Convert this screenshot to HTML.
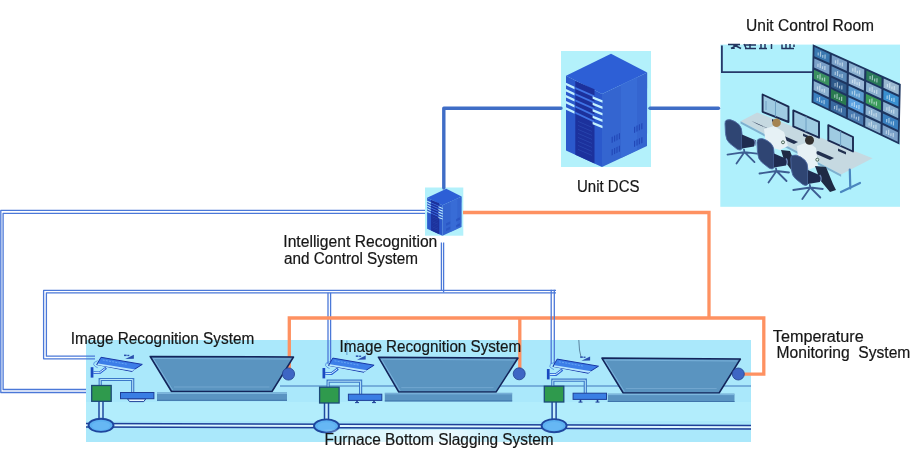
<!DOCTYPE html>
<html><head><meta charset="utf-8">
<style>
html,body{margin:0;padding:0;background:#fff;width:917px;height:469px;overflow:hidden}
svg{display:block;will-change:transform}
text{font-family:"Liberation Sans",sans-serif;font-size:16px;fill:#161616;stroke:#161616;stroke-width:0.2px}
</style></head><body>
<svg width="917" height="469" viewBox="0 0 917 469">
<defs>
  <g id="server">
    <polygon points="50,2.8 86.2,21.4 41,43 5,24.7" fill="#2d5fd6"/>
    <polygon points="5,24.7 41,43 41,116 5,99.4" fill="#2b59cc"/>
    <polygon points="41,43 86.2,21.4 86,95 41,116" fill="#3465d0"/>
    <polygon points="60,33.5 76,26 76,99.2 60,106.9" fill="#3b6fd8" opacity="0.7"/>
    <polygon points="14.3,29.9 33.5,38.2 33.5,112.5 14.3,103.7" fill="#1c319c"/>
    <g fill="#3f74e6"><polygon points="14.3,36.0 33.5,44.5 33.5,46.5 14.3,38.0"/><polygon points="14.3,42.2 33.5,50.8 33.5,52.8 14.3,44.2"/><polygon points="14.3,48.4 33.5,57.1 33.5,59.1 14.3,50.4"/><polygon points="14.3,54.6 33.5,63.4 33.5,65.4 14.3,56.6"/><polygon points="14.3,60.8 33.5,69.7 33.5,71.7 14.3,62.8"/></g>
    <g fill="#2a48b0"><polygon points="17,70.0 31,76.0 31,76.8 17,70.8"/><polygon points="17,74.0 31,80.0 31,80.8 17,74.8"/><polygon points="17,78.0 31,84.0 31,84.8 17,78.8"/><polygon points="17,82.0 31,88.0 31,88.8 17,82.8"/><polygon points="17,86.0 31,92.0 31,92.8 17,86.8"/><polygon points="17,90.0 31,96.0 31,96.8 17,90.8"/><polygon points="17,94.0 31,100.0 31,100.8 17,94.8"/><polygon points="17,98.0 31,104.0 31,104.8 17,98.8"/></g>
    <g fill="#c4f2ff"><polygon points="5,31.8 13.5,35.8 13.5,38.3 5,34.3"/><polygon points="5,37.9 13.5,41.9 13.5,44.4 5,40.4"/><polygon points="5,44.0 13.5,48.0 13.5,50.5 5,46.5"/><polygon points="5,50.1 13.5,54.1 13.5,56.6 5,52.6"/><polygon points="5,56.2 13.5,60.2 13.5,62.7 5,58.7"/><polygon points="31.6,45.2 41.5,49.2 41.5,51.7 31.6,47.7"/><polygon points="31.6,51.6 41.5,55.6 41.5,58.1 31.6,54.1"/><polygon points="31.6,58.0 41.5,62.0 41.5,64.5 31.6,60.5"/><polygon points="31.6,64.4 41.5,68.4 41.5,70.9 31.6,66.9"/><polygon points="31.6,70.8 41.5,74.8 41.5,77.3 31.6,73.3"/></g>
    <g fill="#2248b8"><polygon points="50.6,86.0 51.8,85.4 51.8,91.4 50.6,92.0"/><polygon points="53.0,84.8 54.2,84.2 54.2,90.2 53.0,90.8"/><polygon points="55.4,83.7 56.6,83.1 56.6,89.1 55.4,89.7"/><polygon points="57.8,82.5 59.0,82.0 59.0,88.0 57.8,88.5"/><polygon points="50.6,98.5 51.8,97.9 51.8,103.9 50.6,104.5"/><polygon points="53.0,97.3 54.2,96.8 54.2,102.8 53.0,103.3"/><polygon points="55.4,96.2 56.6,95.6 56.6,101.6 55.4,102.2"/><polygon points="57.8,95.0 59.0,94.5 59.0,100.5 57.8,101.0"/><polygon points="73.0,76.0 74.2,75.4 74.2,81.4 73.0,82.0"/><polygon points="75.4,74.8 76.6,74.2 76.6,80.2 75.4,80.8"/><polygon points="77.8,73.7 79.0,73.1 79.0,79.1 77.8,79.7"/><polygon points="80.2,72.5 81.4,72.0 81.4,78.0 80.2,78.5"/><polygon points="73.0,90.0 74.2,89.4 74.2,95.4 73.0,96.0"/><polygon points="75.4,88.8 76.6,88.2 76.6,94.2 75.4,94.8"/><polygon points="77.8,87.7 79.0,87.1 79.0,93.1 77.8,93.7"/><polygon points="80.2,86.5 81.4,86.0 81.4,92.0 80.2,92.5"/></g>
  </g>
</defs>

<!-- DCS box -->
<rect x="561" y="51" width="90" height="116" fill="#b3f1fb"/>
<use href="#server" x="561" y="51"/>
<!-- small server box -->
<rect x="425" y="187.5" width="38.3" height="48.2" fill="#b3f1fb"/>
<use href="#server" transform="translate(425,187.5) scale(0.4255,0.4155)"/>

<!-- control room box -->
<rect x="720.3" y="44.6" width="179.7" height="162.2" fill="#aff0fc"/>
<g id="room">
  <!-- label frame -->
  <polyline points="721.9,45.5 721.9,72.2 813,72.2" fill="none" stroke="#26396a" stroke-width="1.8"/>
  <g stroke="#23355f" stroke-width="1.5" fill="none">
    <path d="M728,44.5 L740,44.5 M731,48.5 L738,44.5 M734,44 L734,49 M736,46 L741,48.5"/>
    <path d="M744,45 L756,45 M745,48.6 L756,48.6 M750,44 L750,48.6 M744,44 L746,48"/>
    <path d="M761,44 L761,48.5 M765,44 L765,48.5 M759,48.6 L767,48.6"/>
    <path d="M771.5,44 L771.5,49"/>
    <path d="M782,44.5 L782,48.5 L794,48.5 M786,44 L786,48 M790,44 L790,48 M794,44.5 L794,47"/>
  </g>
  <!-- video wall -->
    <polygon points="813.5,45.5 900,84.6 898.7,143.4 812.3,102" fill="#1d3560" stroke="#1d3560" stroke-width="1.5"/>
  <g id="tiles">
    <polygon points="814.5,47.1 829.7,53.9 829.5,63.1 814.3,56.2" fill="#3a78b0"/>
    <line x1="818.2" y1="55.6" x2="818.2" y2="52.4" stroke="#e6f4fb" stroke-width="1.2" opacity="0.6"/>
    <line x1="820.5" y1="56.7" x2="820.6" y2="51.6" stroke="#e6f4fb" stroke-width="1.2" opacity="0.6"/>
    <line x1="822.7" y1="57.7" x2="822.8" y2="55.0" stroke="#e6f4fb" stroke-width="1.2" opacity="0.6"/>
    <line x1="825.0" y1="58.8" x2="825.1" y2="54.6" stroke="#e6f4fb" stroke-width="1.2" opacity="0.6"/>
    <polygon points="814.3,58.4 829.5,65.3 829.3,74.5 814.1,67.5" fill="#7aa0c8"/>
    <line x1="817.9" y1="67.0" x2="818.0" y2="63.8" stroke="#e6f4fb" stroke-width="1.2" opacity="0.6"/>
    <line x1="820.2" y1="68.0" x2="820.3" y2="63.0" stroke="#e6f4fb" stroke-width="1.2" opacity="0.6"/>
    <line x1="822.5" y1="69.1" x2="822.6" y2="66.3" stroke="#e6f4fb" stroke-width="1.2" opacity="0.6"/>
    <line x1="824.8" y1="70.1" x2="824.9" y2="66.0" stroke="#e6f4fb" stroke-width="1.2" opacity="0.6"/>
    <polygon points="814.0,69.7 829.3,76.7 829.1,85.9 813.8,78.8" fill="#3a9060"/>
    <line x1="817.7" y1="78.3" x2="817.8" y2="75.1" stroke="#e6f4fb" stroke-width="1.2" opacity="0.6"/>
    <line x1="820.0" y1="79.4" x2="820.1" y2="74.3" stroke="#e6f4fb" stroke-width="1.2" opacity="0.6"/>
    <line x1="822.3" y1="80.4" x2="822.3" y2="77.7" stroke="#e6f4fb" stroke-width="1.2" opacity="0.6"/>
    <line x1="824.5" y1="81.5" x2="824.6" y2="77.4" stroke="#e6f4fb" stroke-width="1.2" opacity="0.6"/>
    <polygon points="813.8,81.0 829.0,88.1 828.8,97.3 813.6,90.1" fill="#8ab0d0"/>
    <line x1="817.5" y1="89.6" x2="817.5" y2="86.4" stroke="#e6f4fb" stroke-width="1.2" opacity="0.6"/>
    <line x1="819.7" y1="90.7" x2="819.8" y2="85.7" stroke="#e6f4fb" stroke-width="1.2" opacity="0.6"/>
    <line x1="822.0" y1="91.8" x2="822.1" y2="89.0" stroke="#e6f4fb" stroke-width="1.2" opacity="0.6"/>
    <line x1="824.3" y1="92.8" x2="824.4" y2="88.7" stroke="#e6f4fb" stroke-width="1.2" opacity="0.6"/>
    <polygon points="813.6,92.3 828.8,99.5 828.6,108.7 813.4,101.4" fill="#3a80c0"/>
    <line x1="817.2" y1="100.9" x2="817.3" y2="97.7" stroke="#e6f4fb" stroke-width="1.2" opacity="0.6"/>
    <line x1="819.5" y1="102.0" x2="819.6" y2="97.0" stroke="#e6f4fb" stroke-width="1.2" opacity="0.6"/>
    <line x1="821.8" y1="103.1" x2="821.8" y2="100.4" stroke="#e6f4fb" stroke-width="1.2" opacity="0.6"/>
    <line x1="824.1" y1="104.2" x2="824.1" y2="100.1" stroke="#e6f4fb" stroke-width="1.2" opacity="0.6"/>
    <polygon points="831.8,54.9 847.0,61.8 846.8,71.0 831.6,64.1" fill="#7aa0c8"/>
    <line x1="835.5" y1="63.5" x2="835.5" y2="60.3" stroke="#e6f4fb" stroke-width="1.2" opacity="0.6"/>
    <line x1="837.8" y1="64.6" x2="837.9" y2="59.5" stroke="#e6f4fb" stroke-width="1.2" opacity="0.6"/>
    <line x1="840.0" y1="65.6" x2="840.1" y2="62.8" stroke="#e6f4fb" stroke-width="1.2" opacity="0.6"/>
    <line x1="842.3" y1="66.6" x2="842.4" y2="62.5" stroke="#e6f4fb" stroke-width="1.2" opacity="0.6"/>
    <polygon points="831.6,66.3 846.8,73.3 846.6,82.5 831.4,75.5" fill="#5a8ab8"/>
    <line x1="835.2" y1="74.9" x2="835.3" y2="71.7" stroke="#e6f4fb" stroke-width="1.2" opacity="0.6"/>
    <line x1="837.5" y1="76.0" x2="837.6" y2="70.9" stroke="#e6f4fb" stroke-width="1.2" opacity="0.6"/>
    <line x1="839.8" y1="77.0" x2="839.9" y2="74.3" stroke="#e6f4fb" stroke-width="1.2" opacity="0.6"/>
    <line x1="842.1" y1="78.1" x2="842.2" y2="73.9" stroke="#e6f4fb" stroke-width="1.2" opacity="0.6"/>
    <polygon points="831.3,77.7 846.5,84.7 846.3,94.0 831.1,86.9" fill="#2f5a8a"/>
    <line x1="835.0" y1="86.4" x2="835.1" y2="83.1" stroke="#e6f4fb" stroke-width="1.2" opacity="0.6"/>
    <line x1="837.3" y1="87.4" x2="837.4" y2="82.3" stroke="#e6f4fb" stroke-width="1.2" opacity="0.6"/>
    <line x1="839.5" y1="88.5" x2="839.6" y2="85.7" stroke="#e6f4fb" stroke-width="1.2" opacity="0.6"/>
    <line x1="841.8" y1="89.6" x2="841.9" y2="85.4" stroke="#e6f4fb" stroke-width="1.2" opacity="0.6"/>
    <polygon points="831.1,89.1 846.3,96.2 846.1,105.5 830.9,98.3" fill="#2a7a50"/>
    <line x1="834.7" y1="97.8" x2="834.8" y2="94.5" stroke="#e6f4fb" stroke-width="1.2" opacity="0.6"/>
    <line x1="837.0" y1="98.9" x2="837.1" y2="93.8" stroke="#e6f4fb" stroke-width="1.2" opacity="0.6"/>
    <line x1="839.3" y1="99.9" x2="839.4" y2="97.2" stroke="#e6f4fb" stroke-width="1.2" opacity="0.6"/>
    <line x1="841.6" y1="101.0" x2="841.7" y2="96.8" stroke="#e6f4fb" stroke-width="1.2" opacity="0.6"/>
    <polygon points="830.8,100.5 846.0,107.7 845.8,117.0 830.6,109.7" fill="#3a6aa0"/>
    <line x1="834.5" y1="109.2" x2="834.6" y2="106.0" stroke="#e6f4fb" stroke-width="1.2" opacity="0.6"/>
    <line x1="836.8" y1="110.3" x2="836.9" y2="105.2" stroke="#e6f4fb" stroke-width="1.2" opacity="0.6"/>
    <line x1="839.1" y1="111.4" x2="839.1" y2="108.6" stroke="#e6f4fb" stroke-width="1.2" opacity="0.6"/>
    <line x1="841.3" y1="112.5" x2="841.4" y2="108.3" stroke="#e6f4fb" stroke-width="1.2" opacity="0.6"/>
    <polygon points="849.1,62.7 864.3,69.6 864.1,79.0 848.9,72.0" fill="#8ab0d0"/>
    <line x1="852.8" y1="71.4" x2="852.8" y2="68.2" stroke="#e6f4fb" stroke-width="1.2" opacity="0.6"/>
    <line x1="855.1" y1="72.5" x2="855.2" y2="67.3" stroke="#e6f4fb" stroke-width="1.2" opacity="0.6"/>
    <line x1="857.3" y1="73.5" x2="857.4" y2="70.7" stroke="#e6f4fb" stroke-width="1.2" opacity="0.6"/>
    <line x1="859.6" y1="74.5" x2="859.7" y2="70.3" stroke="#e6f4fb" stroke-width="1.2" opacity="0.6"/>
    <polygon points="848.9,74.2 864.1,81.2 863.9,90.5 848.7,83.5" fill="#9ab8d8"/>
    <line x1="852.5" y1="82.9" x2="852.6" y2="79.7" stroke="#e6f4fb" stroke-width="1.2" opacity="0.6"/>
    <line x1="854.8" y1="84.0" x2="854.9" y2="78.9" stroke="#e6f4fb" stroke-width="1.2" opacity="0.6"/>
    <line x1="857.1" y1="85.0" x2="857.1" y2="82.2" stroke="#e6f4fb" stroke-width="1.2" opacity="0.6"/>
    <line x1="859.4" y1="86.1" x2="859.5" y2="81.9" stroke="#e6f4fb" stroke-width="1.2" opacity="0.6"/>
    <polygon points="848.6,85.7 863.8,92.7 863.6,102.1 848.4,95.0" fill="#5a9ad0"/>
    <line x1="852.3" y1="94.4" x2="852.3" y2="91.2" stroke="#e6f4fb" stroke-width="1.2" opacity="0.6"/>
    <line x1="854.6" y1="95.5" x2="854.7" y2="90.4" stroke="#e6f4fb" stroke-width="1.2" opacity="0.6"/>
    <line x1="856.8" y1="96.6" x2="856.9" y2="93.8" stroke="#e6f4fb" stroke-width="1.2" opacity="0.6"/>
    <line x1="859.1" y1="97.6" x2="859.2" y2="93.4" stroke="#e6f4fb" stroke-width="1.2" opacity="0.6"/>
    <polygon points="848.4,97.2 863.6,104.3 863.4,113.7 848.2,106.5" fill="#5aa0e0"/>
    <line x1="852.0" y1="105.9" x2="852.1" y2="102.7" stroke="#e6f4fb" stroke-width="1.2" opacity="0.6"/>
    <line x1="854.3" y1="107.0" x2="854.4" y2="101.9" stroke="#e6f4fb" stroke-width="1.2" opacity="0.6"/>
    <line x1="856.6" y1="108.1" x2="856.6" y2="105.3" stroke="#e6f4fb" stroke-width="1.2" opacity="0.6"/>
    <line x1="858.9" y1="109.2" x2="859.0" y2="105.0" stroke="#e6f4fb" stroke-width="1.2" opacity="0.6"/>
    <polygon points="848.1,108.7 863.3,115.9 863.1,125.2 847.9,118.0" fill="#4a7ab0"/>
    <line x1="851.8" y1="117.4" x2="851.8" y2="114.2" stroke="#e6f4fb" stroke-width="1.2" opacity="0.6"/>
    <line x1="854.1" y1="118.5" x2="854.2" y2="113.4" stroke="#e6f4fb" stroke-width="1.2" opacity="0.6"/>
    <line x1="856.3" y1="119.6" x2="856.4" y2="116.8" stroke="#e6f4fb" stroke-width="1.2" opacity="0.6"/>
    <line x1="858.6" y1="120.7" x2="858.7" y2="116.5" stroke="#e6f4fb" stroke-width="1.2" opacity="0.6"/>
    <polygon points="866.4,70.5 881.6,77.4 881.4,86.9 866.2,79.9" fill="#2a7a5a"/>
    <line x1="870.1" y1="79.3" x2="870.1" y2="76.0" stroke="#e6f4fb" stroke-width="1.2" opacity="0.6"/>
    <line x1="872.3" y1="80.3" x2="872.5" y2="75.2" stroke="#e6f4fb" stroke-width="1.2" opacity="0.6"/>
    <line x1="874.6" y1="81.4" x2="874.7" y2="78.6" stroke="#e6f4fb" stroke-width="1.2" opacity="0.6"/>
    <line x1="876.9" y1="82.4" x2="877.0" y2="78.2" stroke="#e6f4fb" stroke-width="1.2" opacity="0.6"/>
    <polygon points="866.2,82.1 881.4,89.1 881.2,98.5 866.0,91.5" fill="#8ab0d0"/>
    <line x1="869.8" y1="90.9" x2="869.9" y2="87.6" stroke="#e6f4fb" stroke-width="1.2" opacity="0.6"/>
    <line x1="872.1" y1="91.9" x2="872.2" y2="86.8" stroke="#e6f4fb" stroke-width="1.2" opacity="0.6"/>
    <line x1="874.4" y1="93.0" x2="874.4" y2="90.2" stroke="#e6f4fb" stroke-width="1.2" opacity="0.6"/>
    <line x1="876.7" y1="94.1" x2="876.8" y2="89.8" stroke="#e6f4fb" stroke-width="1.2" opacity="0.6"/>
    <polygon points="865.9,93.7 881.1,100.8 880.9,110.2 865.7,103.1" fill="#3a9a5a"/>
    <line x1="869.6" y1="102.5" x2="869.6" y2="99.2" stroke="#e6f4fb" stroke-width="1.2" opacity="0.6"/>
    <line x1="871.8" y1="103.6" x2="872.0" y2="98.4" stroke="#e6f4fb" stroke-width="1.2" opacity="0.6"/>
    <line x1="874.1" y1="104.6" x2="874.2" y2="101.8" stroke="#e6f4fb" stroke-width="1.2" opacity="0.6"/>
    <line x1="876.4" y1="105.7" x2="876.5" y2="101.5" stroke="#e6f4fb" stroke-width="1.2" opacity="0.6"/>
    <polygon points="865.7,105.3 880.9,112.4 880.7,121.8 865.5,114.6" fill="#8ab0d0"/>
    <line x1="869.3" y1="114.1" x2="869.4" y2="110.8" stroke="#e6f4fb" stroke-width="1.2" opacity="0.6"/>
    <line x1="871.6" y1="115.2" x2="871.7" y2="110.0" stroke="#e6f4fb" stroke-width="1.2" opacity="0.6"/>
    <line x1="873.9" y1="116.3" x2="873.9" y2="113.4" stroke="#e6f4fb" stroke-width="1.2" opacity="0.6"/>
    <line x1="876.2" y1="117.3" x2="876.2" y2="113.1" stroke="#e6f4fb" stroke-width="1.2" opacity="0.6"/>
    <polygon points="865.4,116.9 880.6,124.1 880.4,133.5 865.2,126.2" fill="#8ab0d0"/>
    <line x1="869.1" y1="125.7" x2="869.1" y2="122.4" stroke="#e6f4fb" stroke-width="1.2" opacity="0.6"/>
    <line x1="871.3" y1="126.8" x2="871.4" y2="121.6" stroke="#e6f4fb" stroke-width="1.2" opacity="0.6"/>
    <line x1="873.6" y1="127.9" x2="873.7" y2="125.1" stroke="#e6f4fb" stroke-width="1.2" opacity="0.6"/>
    <line x1="875.9" y1="129.0" x2="876.0" y2="124.7" stroke="#e6f4fb" stroke-width="1.2" opacity="0.6"/>
    <polygon points="883.7,78.4 898.9,85.3 898.7,94.8 883.5,87.8" fill="#9ab8d0"/>
    <line x1="887.4" y1="87.2" x2="887.4" y2="83.9" stroke="#e6f4fb" stroke-width="1.2" opacity="0.6"/>
    <line x1="889.6" y1="88.2" x2="889.8" y2="83.0" stroke="#e6f4fb" stroke-width="1.2" opacity="0.6"/>
    <line x1="891.9" y1="89.3" x2="892.0" y2="86.4" stroke="#e6f4fb" stroke-width="1.2" opacity="0.6"/>
    <line x1="894.2" y1="90.3" x2="894.3" y2="86.0" stroke="#e6f4fb" stroke-width="1.2" opacity="0.6"/>
    <polygon points="883.5,90.0 898.7,97.0 898.5,106.5 883.3,99.5" fill="#3a90d0"/>
    <line x1="887.1" y1="98.9" x2="887.2" y2="95.6" stroke="#e6f4fb" stroke-width="1.2" opacity="0.6"/>
    <line x1="889.4" y1="99.9" x2="889.5" y2="94.7" stroke="#e6f4fb" stroke-width="1.2" opacity="0.6"/>
    <line x1="891.7" y1="101.0" x2="891.7" y2="98.1" stroke="#e6f4fb" stroke-width="1.2" opacity="0.6"/>
    <line x1="894.0" y1="102.0" x2="894.0" y2="97.8" stroke="#e6f4fb" stroke-width="1.2" opacity="0.6"/>
    <polygon points="883.2,101.7 898.4,108.8 898.2,118.3 883.0,111.1" fill="#8ab0d0"/>
    <line x1="886.8" y1="110.6" x2="886.9" y2="107.3" stroke="#e6f4fb" stroke-width="1.2" opacity="0.6"/>
    <line x1="889.1" y1="111.6" x2="889.2" y2="106.4" stroke="#e6f4fb" stroke-width="1.2" opacity="0.6"/>
    <line x1="891.4" y1="112.7" x2="891.5" y2="109.9" stroke="#e6f4fb" stroke-width="1.2" opacity="0.6"/>
    <line x1="893.7" y1="113.8" x2="893.8" y2="109.5" stroke="#e6f4fb" stroke-width="1.2" opacity="0.6"/>
    <polygon points="882.9,113.4 898.2,120.5 897.9,130.0 882.7,122.8" fill="#3a80c0"/>
    <line x1="886.6" y1="122.3" x2="886.7" y2="119.0" stroke="#e6f4fb" stroke-width="1.2" opacity="0.6"/>
    <line x1="888.9" y1="123.3" x2="889.0" y2="118.1" stroke="#e6f4fb" stroke-width="1.2" opacity="0.6"/>
    <line x1="891.2" y1="124.4" x2="891.2" y2="121.6" stroke="#e6f4fb" stroke-width="1.2" opacity="0.6"/>
    <line x1="893.4" y1="125.5" x2="893.5" y2="121.2" stroke="#e6f4fb" stroke-width="1.2" opacity="0.6"/>
    <polygon points="882.7,125.1 897.9,132.3 897.7,141.8 882.5,134.5" fill="#7aa0c8"/>
    <line x1="886.3" y1="134.0" x2="886.4" y2="130.6" stroke="#e6f4fb" stroke-width="1.2" opacity="0.6"/>
    <line x1="888.6" y1="135.0" x2="888.7" y2="129.8" stroke="#e6f4fb" stroke-width="1.2" opacity="0.6"/>
    <line x1="890.9" y1="136.1" x2="891.0" y2="133.3" stroke="#e6f4fb" stroke-width="1.2" opacity="0.6"/>
    <line x1="893.2" y1="137.2" x2="893.3" y2="133.0" stroke="#e6f4fb" stroke-width="1.2" opacity="0.6"/>
  </g>
  <!-- desk -->
  <polygon points="740.5,121.3 757.2,112.4 872.6,158.3 841.1,174.5" fill="#c6d9e1"/>
  <polygon points="740.5,121.3 841.1,174.5 841.1,176.8 740.5,123.6" fill="#7fb0cf"/>
  <path d="M849.8,169.5 L850.3,188.5 M841,192 L860,183" stroke="#4a86bf" stroke-width="2.2" fill="none" stroke-linecap="round"/>
  <!-- monitors -->
  <g fill="#9fcbe2" stroke="#1b2a52" stroke-width="1.9" stroke-linejoin="round">
    <polygon points="762.6,94.5 788.5,106.6 788.5,122 762.6,111.8"/>
    <polygon points="793.3,110.4 819,121.9 819,137.7 793.3,126.4"/>
    <polygon points="828.3,125.1 853,137 853,151.5 828.3,140.4"/>
  </g>
  <g stroke="#6a9cc0" stroke-width="0.9" fill="none">
    <path d="M775.5,100.6 L775.5,116.8 M766,101 L766,110"/>
    <path d="M806,116.2 L806,132"/>
    <path d="M840.6,131 L840.6,146"/>
  </g>
  <g fill="#22304f">
    <polygon points="772,119 780,122.5 780,125 772,121.5"/>
    <polygon points="803,133.5 811,137 811,139.5 803,136"/>
    <polygon points="838,148.5 846,152 846,154.5 838,151"/>
    <polygon points="751.6,121 766,127.5 771.6,130.2 757,124"/>
    <polygon points="782,135 798,142 794,144 778,137"/>
    <polygon points="818,151 834,158 830,160 814,153"/>
  </g>
  <!-- people -->
  <g fill="#e6f1f5">
    <polygon points="764,129 774,126 784,132 788,146 780,150 766,146"/>
    <polygon points="797,146 808,142 816,148 818,166 808,170 798,160"/>
  </g>
  <g fill="#a48452"><circle cx="776.5" cy="122.8" r="4.3"/></g>
  <g fill="#33302f"><circle cx="809.5" cy="140.2" r="4.5"/></g>
  <g fill="#1f2a44">
    <polygon points="781,150 790,151 796,166 792,171 784,160"/>
    <polygon points="815,166 826,167 833,184 836,190 830,192 820,180"/>
  </g>
  <g fill="#e8f4f0" stroke="#2a4a3a" stroke-width="0.8">
    <circle cx="783" cy="142.3" r="1.5"/>
    <circle cx="817.3" cy="159.7" r="1.5"/>
  </g>
  <!-- chairs -->
  <defs>
    <g id="chair">
      <path d="M1.5,0.5 Q5,-1 10,2 L14,5 Q17,8 17,14 L17,29 Q16,31.5 12,29.5 L5,24 Q1,21 0.5,14 L0,4 Q0,1 1.5,0.5Z" fill="#2f4573" stroke="#4d6aa3" stroke-width="0.9"/>
      <polygon points="17,15 31,21 29,27 17,29" fill="#1e2b50"/>
      <path d="M29,20 Q31,22 30,26" stroke="#6c88b8" stroke-width="1.2" fill="none"/>
      <g stroke="#3d5d92" stroke-width="1.8" fill="none" stroke-linecap="round">
        <path d="M19,30 L19.5,32.5 M19.5,32.5 L2.5,35 M19.5,32.5 L11.5,44 M19.5,32.5 L29.5,42.5 M19.5,32.5 L32,34"/>
      </g>
    </g>
  </defs>
  <use href="#chair" x="725" y="119.6"/>
  <use href="#chair" x="757" y="138.5"/>
  <use href="#chair" x="790.8" y="155"/>
</g>

<!-- panel -->
<rect x="86" y="340" width="665" height="102" fill="#aae8fb"/>
<rect x="86" y="402" width="665" height="19" fill="#b4eefc" opacity="0.8"/>
<!-- single blue lines -->
<g stroke="#3f6dc6" stroke-width="3.4" fill="none" stroke-linecap="round" stroke-linejoin="round">
  <polyline points="561,108.3 443.8,108.3 443.8,188"/>
  <line x1="650" y1="108.2" x2="718.5" y2="108.2"/>
</g>

<g stroke="#4b78d8" stroke-width="1.3" fill="none">
  <polyline points="328,292.8 328,364"/>
  <polyline points="330.6,292.8 330.6,364"/>
</g>
<!-- orange lines -->
<g stroke="#fe9161" stroke-width="3.3" fill="none">
  <polyline points="463,212.5 709,212.5 709,318"/>
  <polyline points="289.3,374 289.3,318 763.8,318 763.8,374.2 738,374.2"/>
  <line x1="519.8" y1="318" x2="519.8" y2="374"/>
</g>
<g stroke="#4b78d8" stroke-width="1.3" fill="none">
  <polyline points="551.2,289.8 551.2,364"/>
  <polyline points="554.3,289.8 554.3,364"/>
</g>


<!-- double lines -->
<g stroke="#4b78d8" stroke-width="1.3" fill="none" stroke-linejoin="round">
  <polyline points="425,210.3 0.8,210.3 0.8,392.5 86,392.5"/>
  <polyline points="425,213.3 3.1,213.3 3.1,389.5 86,389.5"/>
  <polyline points="441.4,242.5 441.4,290.4"/>
  <polyline points="443.6,242.5 443.6,292.4"/>
  <polyline points="556,290.4 43.6,290.4 43.6,358.8 95,358.8"/>
  <polyline points="556,292.8 46.4,292.8 46.4,356.2 95,356.2"/>
  <!-- bottom -->

</g>
<line x1="280" y1="386" x2="751" y2="386" stroke="#2f64b0" stroke-width="1" opacity="0.85"/>
<line x1="86" y1="425.3" x2="751" y2="427.2" stroke="#dcf6ff" stroke-width="2.4"/>
<line x1="86" y1="423.6" x2="751" y2="425.4" stroke="#1f3f98" stroke-width="1.5"/>
<line x1="86" y1="427" x2="751" y2="428.9" stroke="#1f3f98" stroke-width="1.5"/>

<!-- hoppers -->
<polygon points="150.2,356.5 293.5,357 272,391.5 171.5,391.5" fill="#5a94c0" stroke="#13245a" stroke-width="1.5" stroke-linejoin="round"/>
<polyline points="172.7,390.0 153.2,358.5 290.5,359" fill="none" stroke="#86bde4" stroke-width="0.9" opacity="0.8"/>
<line x1="174.0" y1="387.0" x2="269.5" y2="387.0" stroke="#7aaed6" stroke-width="0.9" opacity="0.8"/>
<polygon points="378.4,357.2 518,358 496,392.1 398.8,392.1" fill="#5a94c0" stroke="#13245a" stroke-width="1.5" stroke-linejoin="round"/>
<polyline points="400.0,390.6 381.4,359.2 515,360" fill="none" stroke="#86bde4" stroke-width="0.9" opacity="0.8"/>
<line x1="401.3" y1="387.6" x2="493.5" y2="387.6" stroke="#7aaed6" stroke-width="0.9" opacity="0.8"/>
<polygon points="601.9,358.1 740.4,359 719.1,393 623.2,393" fill="#5a94c0" stroke="#13245a" stroke-width="1.5" stroke-linejoin="round"/>
<polyline points="624.4000000000001,391.5 604.9,360.1 737.4,361" fill="none" stroke="#86bde4" stroke-width="0.9" opacity="0.8"/>
<line x1="625.7" y1="388.5" x2="716.6" y2="388.5" stroke="#7aaed6" stroke-width="0.9" opacity="0.8"/>
<rect x="157" y="392.4" width="130" height="8.4" fill="#5a94c2"/>
<line x1="157" y1="393.4" x2="287" y2="393.4" stroke="#8cc4e8" stroke-width="0.8"/>
<line x1="157" y1="400.29999999999995" x2="287" y2="400.29999999999995" stroke="#3f74aa" stroke-width="1"/>
<rect x="384.8" y="392.8" width="127.4" height="8.6" fill="#5a94c2"/>
<line x1="384.8" y1="393.8" x2="512.2" y2="393.8" stroke="#8cc4e8" stroke-width="0.8"/>
<line x1="384.8" y1="400.90000000000003" x2="512.2" y2="400.90000000000003" stroke="#3f74aa" stroke-width="1"/>
<rect x="607.8" y="393.6" width="126.7" height="8.4" fill="#5a94c2"/>
<line x1="607.8" y1="394.6" x2="734.5" y2="394.6" stroke="#8cc4e8" stroke-width="0.8"/>
<line x1="607.8" y1="401.5" x2="734.5" y2="401.5" stroke="#3f74aa" stroke-width="1"/>
<g fill="#3e66c4" stroke="#22408e" stroke-width="0.8">
  <circle cx="288.5" cy="374" r="6.1"/>
  <circle cx="519.2" cy="373.8" r="6"/>
  <circle cx="738.3" cy="374" r="6"/>
</g>

<!-- unit devices -->
<defs>
  <g id="cam">
    <rect x="0" y="0" width="2.7" height="10.4" fill="#1a48c0"/>
    <path d="M2.6,5.4 L9,5.6 L15.5,0.6" stroke="#2a62d4" stroke-width="2.6" fill="none" stroke-linejoin="round"/>
    <path d="M3,5.4 L8.8,5.5 L14.6,1.2" stroke="#d8f4ff" stroke-width="1" fill="none"/>
    <path d="M7,-6.5 Q2,-5 3,-2.5 Q4,-0.5 7,0.5" stroke="#4a88e0" stroke-width="0.8" fill="none"/>
    <polygon points="10.3,-9.9 51.6,-2.8 44,2 41.2,4.2 6,-2.6" fill="#3c7ee8" stroke="#1836a6" stroke-width="1" stroke-linejoin="round"/>
    <polygon points="7.5,-3.8 44.5,2.3 41.5,3.7 6.6,-2.2" fill="#b8e6ff"/>
    <line x1="12" y1="-7.2" x2="36" y2="-3" stroke="#76b2f6" stroke-width="0.7" stroke-dasharray="2 1.2"/>
    <g fill="#2a4fae"><rect x="33.3" y="-12.6" width="2.6" height="1.5"/><rect x="36.6" y="-12.4" width="2" height="1.3"/><polygon points="34.5,-8.2 43.2,-8.4 43.2,-12.5"/></g>
  </g>
  <g id="dev">
    <!-- origin at green box top-left -->
    <path d="M8.5,0 L8.5,-6 L41,-6 L41,7" stroke="#3b78c8" stroke-width="3.2" fill="none"/>
    <path d="M8.5,0 L8.5,-6 L41,-6 L41,7" stroke="#b9e6fa" stroke-width="1" fill="none"/>
    <rect x="0" y="0" width="19.5" height="15.8" fill="#2f9a4d" stroke="#1c4a78" stroke-width="1.3"/>
    <rect x="28.8" y="7" width="33.4" height="6.2" fill="#3a7ee4" stroke="#1e3f98" stroke-width="1"/>
  </g>
  <g id="foot">
    <!-- origin: center x, y = box bottom -->
    <rect x="-1.8" y="0" width="3.6" height="20" fill="#c8eefc"/>
    <line x1="-2" y1="0" x2="-2" y2="19" stroke="#1f4aa0" stroke-width="1.5"/>
    <line x1="2" y1="0" x2="2" y2="19" stroke="#1f4aa0" stroke-width="1.5"/>
    <ellipse cx="0" cy="24" rx="12.5" ry="6.6" fill="#5cb0f0" stroke="#1e469e" stroke-width="1.9"/>
    <ellipse cx="0" cy="24.5" rx="9" ry="4.2" fill="#6cbcf6" opacity="0.6"/>
  </g>
</defs>
<use href="#foot" x="101" y="401.3"/>
<use href="#foot" x="326.5" y="402"/>
<use href="#foot" x="554.1" y="401.7"/>
<polygon points="127.5,398.8 145.8,398.8 143.8,401.6 129.5,401.6" fill="#e8f6ff" stroke="#1e3f98" stroke-width="1"/>
<path d="M357,400 L357,402.5 M374,400 L374,402.5 M580.5,399.5 L580.5,402 M597.5,399.5 L597.5,402" stroke="#1e3f98" stroke-width="1.6"/>
<path d="M355,402.6 L359,402.6 M372,402.6 L376,402.6 M578.5,402.1 L582.5,402.1 M595.5,402.1 L599.5,402.1" stroke="#1e3f98" stroke-width="1"/>
<use href="#dev" x="91.7" y="385.5"/>
<use href="#dev" x="319.6" y="387.2"/>
<use href="#dev" x="544.3" y="386.2"/>
<use href="#cam" x="90.7" y="367.2"/>
<use href="#cam" x="322.5" y="368"/>
<use href="#cam" x="546.9" y="369"/>

<defs><linearGradient id="lbl" x1="0" x2="1" y1="0" y2="0">
<stop offset="0" stop-color="#fff" stop-opacity="0"/><stop offset="0.12" stop-color="#fff" stop-opacity="0.55"/><stop offset="0.55" stop-color="#fff" stop-opacity="0.75"/><stop offset="0.8" stop-color="#fff" stop-opacity="0.2"/><stop offset="1" stop-color="#fff" stop-opacity="0"/></linearGradient></defs>
<rect x="322" y="429.6" width="235" height="12.4" fill="url(#lbl)"/>
<path d="M578.8,340 L579.5,350 L581,357" stroke="#3a5a7a" stroke-width="0.7" fill="none"/>
<line x1="346.9" y1="340.5" x2="346.9" y2="355" stroke="#5a9ad0" stroke-width="1"/>
<!-- texts -->
<text x="746" y="30.8" textLength="128" lengthAdjust="spacingAndGlyphs">Unit Control Room</text>
<text x="577" y="192.2" textLength="62.5" lengthAdjust="spacingAndGlyphs">Unit DCS</text>
<text x="283.3" y="247.4" textLength="154" lengthAdjust="spacingAndGlyphs">Intelligent Recognition</text>
<text x="284" y="263.7" textLength="134" lengthAdjust="spacingAndGlyphs">and Control System</text>
<text x="70.8" y="344.2" textLength="183.5" lengthAdjust="spacingAndGlyphs">Image Recognition System</text>
<text x="339.6" y="351.9" textLength="181.6" lengthAdjust="spacingAndGlyphs">Image Recognition System</text>
<text x="772.8" y="342.3" textLength="90.9" lengthAdjust="spacingAndGlyphs">Temperature</text>
<text x="776.6" y="358.1" textLength="133.8" lengthAdjust="spacingAndGlyphs" style="white-space:pre">Monitoring  System</text>
<text x="324.4" y="444.5" textLength="229.2" lengthAdjust="spacingAndGlyphs">Furnace Bottom Slagging System</text>
</svg>
</body></html>
